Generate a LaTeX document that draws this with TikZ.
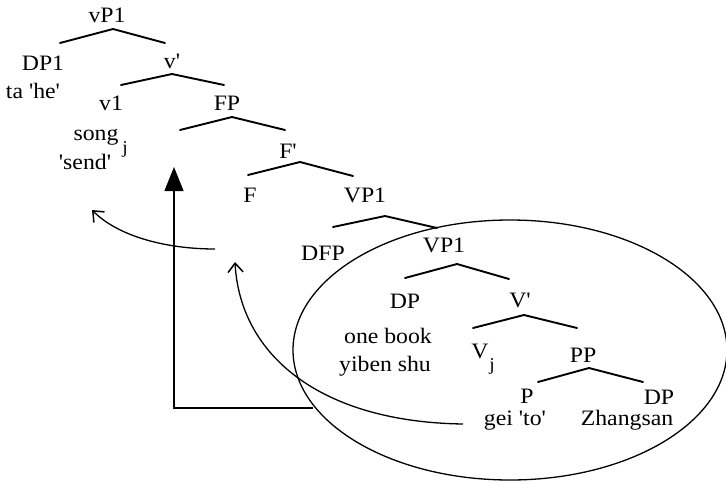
\documentclass[tikz,border=0pt]{standalone}
\usepackage{fontspec}
\newfontfamily\tfont{Liberation Serif}[FakeStretch=1.08]
\usetikzlibrary{arrows.meta}
\begin{document}
\begin{tikzpicture}[x=1pt,y=-1pt,
  lbl/.style={font=\tfont\fontsize{22}{24}\selectfont, anchor=base, inner sep=0pt},
  sub/.style={font=\tfont\fontsize{18}{20}\selectfont, anchor=base, inner sep=0pt},
  branch/.style={line width=1.9pt, line join=round, line cap=round},
  thinline/.style={line width=1.3pt},
  barb/.style={-{Straight Barb[length=9pt,width=15pt,line width=1.5pt]}}]
\useasboundingbox (0,0) rectangle (726,485);
% labels
\node[lbl] (vP1) at (107,22) {vP1};
\node[lbl] (DP1) at (43,70) {DP1};
\node[lbl] (ta) at (33,98) {ta 'he'};
\node[lbl] (vbar) at (172,68) {v'};
\node[lbl] (v1) at (111,110) {v1};
\node[lbl] (FP) at (227,110) {FP};
\node[lbl] (song) at (96,140) {song};
\node[sub] (j1) at (125,153) {j};
\node[lbl] (send) at (85,169) {'send'};
\node[lbl] (Fbar) at (288,158) {F'};
\node[lbl] (F) at (250,202) {F};
\node[lbl] (VP1a) at (365,202) {VP1};
\node[lbl] (DFP) at (323,260) {DFP};
\node[lbl] (VP1b) at (444,252) {VP1};
\node[lbl] (DP2) at (405,308) {DP};
\node[lbl] (Vbar) at (520,307) {V'};
\node[lbl] (onebook) at (388,343) {one book};
\node[lbl] (yiben) at (385,371) {yiben shu};
\node[lbl] (V) at (480,358) {V};
\node[sub] (j2) at (492,370) {j};
\node[lbl] (PP) at (583,362) {PP};
\node[lbl] (P) at (527,403) {P};
\node[lbl] (DP3) at (659,404) {DP};
\node[lbl] (gei) at (515,425) {gei 'to'};
\node[lbl] (zh) at (627,425) {Zhangsan};
% branch points
\coordinate (b1l) at (60,43);   \coordinate (b1t) at (113,29);  \coordinate (b1r) at (165,43);
\coordinate (b2l) at (121,85);  \coordinate (b2t) at (172,74);  \coordinate (b2r) at (224,85);
\coordinate (b3l) at (180,130); \coordinate (b3t) at (232,117); \coordinate (b3r) at (285,130);
\coordinate (b4l) at (248,175); \coordinate (b4t) at (300,162); \coordinate (b4r) at (353,176);
\coordinate (b5l) at (333,227); \coordinate (b5t) at (385,216); \coordinate (b5r) at (437,228);
\coordinate (b6l) at (405,278); \coordinate (b6t) at (457,264); \coordinate (b6r) at (509,279);
\coordinate (b7l) at (473,328); \coordinate (b7t) at (524,315); \coordinate (b7r) at (577,328);
\coordinate (b8l) at (538,382); \coordinate (b8t) at (589,368); \coordinate (b8r) at (643,382);
\foreach \i in {1,...,8} {\draw[branch] (b\i l) -- (b\i t) -- (b\i r);}
% ellipse
\draw[thinline] (510,350) ellipse [x radius=217, y radius=130];
% arrows
\coordinate (a1s) at (215,249); \coordinate (a1e) at (92,210);
\draw[thinline, barb] (a1s) .. controls (170,249) and (120,238) .. (a1e);
\coordinate (a2s) at (463,424); \coordinate (a2e) at (235,262);
\draw[thinline, barb] (a2s) .. controls (320,422) and (240,355) .. (a2e);
\coordinate (r1) at (313,408); \coordinate (r2) at (174,408); \coordinate (r3) at (174,167);
\draw[thinline, -{Triangle[length=24pt,width=19pt]}] (r1) -- (r2) -- (r3);
\end{tikzpicture}
\end{document}
